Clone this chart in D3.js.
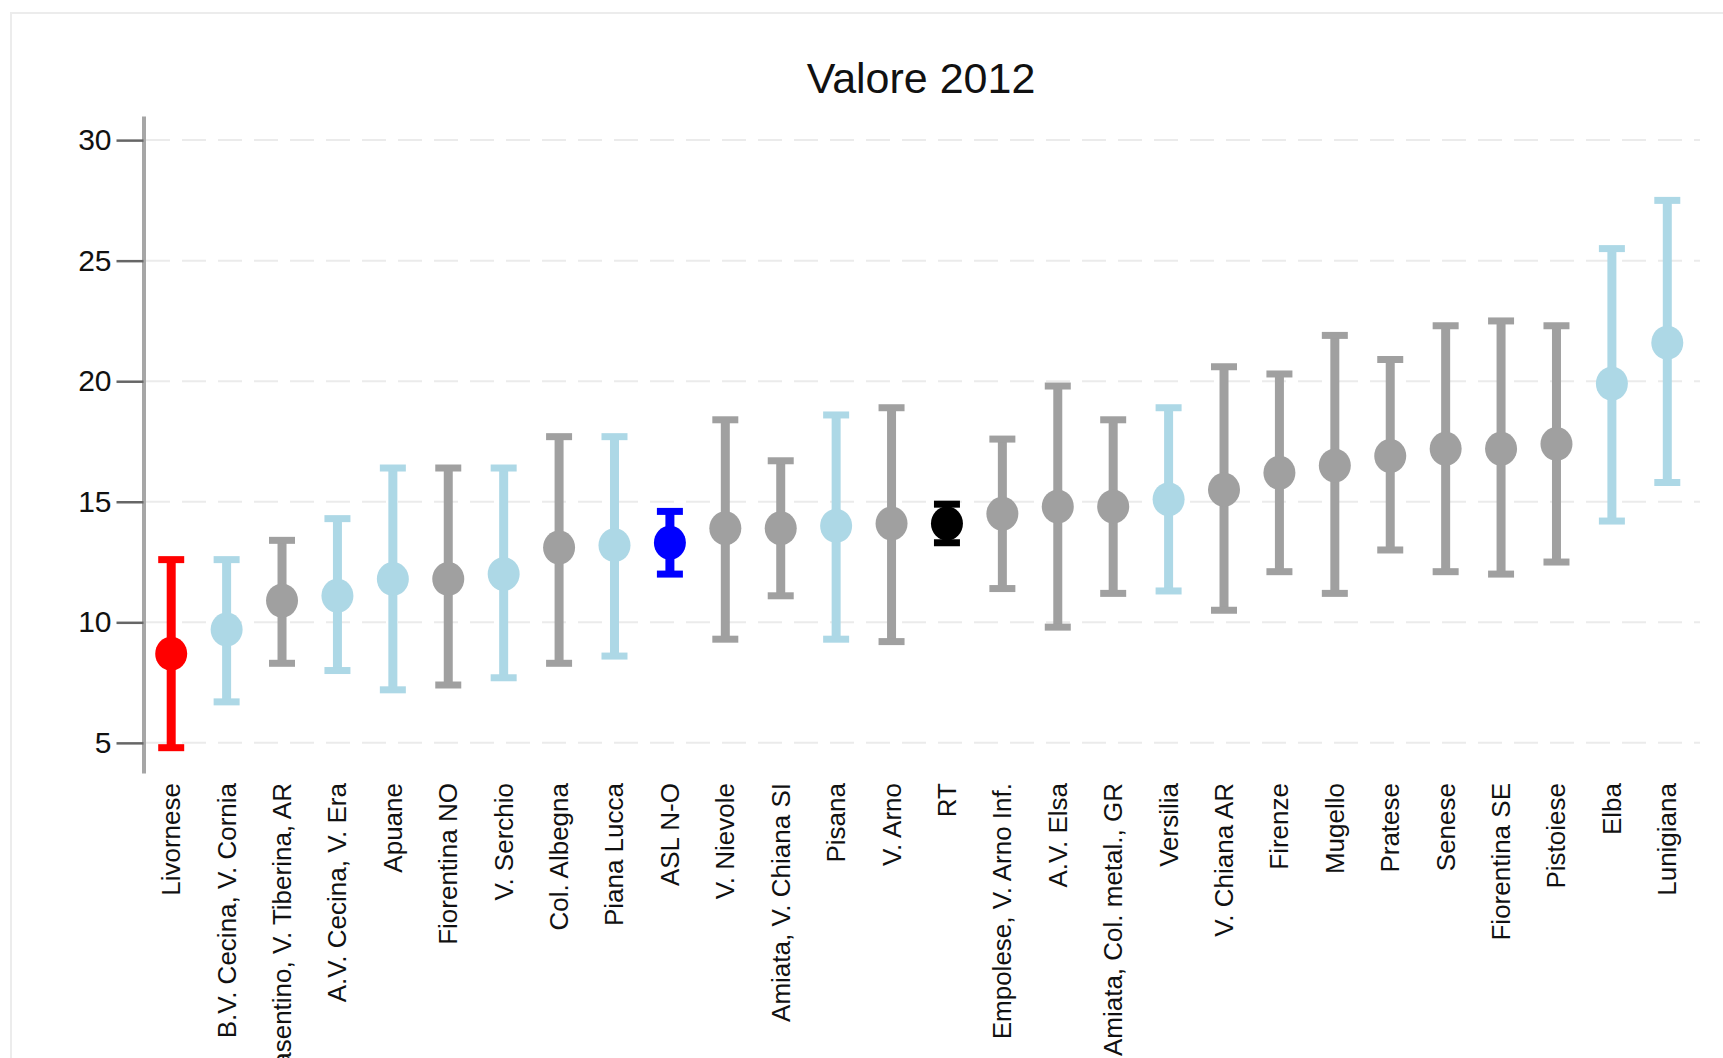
<!DOCTYPE html>
<html>
<head>
<meta charset="utf-8">
<script src="https://cdn.jsdelivr.net/npm/d3@7"></script>
<style>
  body { margin: 0; background: #fff; }
  svg { display: block; font-family: "Liberation Sans", Arial, sans-serif; }
</style>
</head>
<body>
<div id="chart"></div>
<script>
// Valori (media e intervallo di confidenza)
const zone = ["Livornese", "B.V. Cecina, V. Cornia", "Casentino, V. Tiberina, AR", "A.V. Cecina, V. Era",
  "Apuane", "Fiorentina NO", "V. Serchio", "Col. Albegna", "Piana Lucca", "ASL N-O", "V. Nievole",
  "Amiata, V. Chiana SI", "Pisana", "V. Arno", "RT", "Empolese, V. Arno Inf.", "A.V. Elsa",
  "Amiata, Col. metal., GR", "Versilia", "V. Chiana AR", "Firenze", "Mugello", "Pratese", "Senese",
  "Fiorentina SE", "Pistoiese", "Elba", "Lunigiana"];
const valore = [8.7, 9.7, 10.9, 11.1, 11.8, 11.8, 12.0, 13.1, 13.2, 13.3, 13.9, 13.9, 14.0, 14.1, 14.1,
  14.5, 14.8, 14.8, 15.1, 15.5, 16.2, 16.5, 16.9, 17.2, 17.2, 17.4, 19.9, 21.6];
const inf = [4.8, 6.7, 8.3, 8.0, 7.2, 7.4, 7.7, 8.3, 8.6, 12.0, 9.3, 11.1, 9.3, 9.2, 13.3,
  11.4, 9.8, 11.2, 11.3, 10.5, 12.1, 11.2, 13.0, 12.1, 12.0, 12.5, 14.2, 15.8];
const sup = [12.6, 12.6, 13.4, 14.3, 16.4, 16.4, 16.4, 17.7, 17.7, 14.6, 18.4, 16.7, 18.6, 18.9, 14.9,
  17.6, 19.8, 18.4, 18.9, 20.6, 20.3, 21.9, 20.9, 22.3, 22.5, 22.3, 25.5, 27.5];
const gruppo = ["min", "az", "gr", "az", "az", "gr", "az", "gr", "az", "asl", "gr", "gr", "az", "gr", "rt",
  "gr", "gr", "gr", "az", "gr", "gr", "gr", "gr", "gr", "gr", "gr", "az", "az"];
const yTicks = [5, 10, 15, 20, 25, 30];

const colori = { min: "#ff0000", az: "#add8e6", gr: "#a0a0a0", asl: "#0000ff", rt: "#000000" };

const W = 1723, H = 1058;
const data = zone.map((z, i) => ({ zona: z, v: valore[i], lo: inf[i], hi: sup[i], g: gruppo[i] }));

const svg = d3.select("#chart").append("svg")
  .attr("width", W)
  .attr("height", H);

// cornice leggera
svg.append("rect")
  .attr("x", 11).attr("y", 13)
  .attr("width", W + 20).attr("height", H + 20)
  .attr("fill", "none")
  .attr("stroke", "#ececec")
  .attr("stroke-width", 2);

svg.append("text")
  .attr("x", 921)
  .attr("y", 93)
  .attr("text-anchor", "middle")
  .style("font-size", "43px")
  .style("fill", "#111")
  .text("Valore 2012");

// Scale
const x = d3.scalePoint().domain(zone).range([143.5, 1695]).padding(0.5);
const y = d3.scaleLinear().domain([3.75, 31]).range([773, 116]);

// Griglia tratteggiata
svg.append("g")
  .selectAll("line")
  .data(yTicks)
  .join("line")
  .attr("x1", 146)
  .attr("x2", 1700)
  .attr("y1", d => y(d))
  .attr("y2", d => y(d))
  .attr("stroke", "#ebebeb")
  .attr("stroke-width", 2)
  .attr("stroke-dasharray", "24,12");

// Asse Y
const yAxis = svg.append("g")
  .attr("transform", "translate(143.5,0)")
  .call(d3.axisLeft(y).tickValues(yTicks).tickSize(27).tickSizeOuter(0).tickPadding(5));

yAxis.select(".domain")
  .attr("stroke", "#a6a6a6")
  .attr("stroke-width", 4);
yAxis.selectAll(".tick line")
  .attr("stroke", "#666")
  .attr("stroke-width", 2.5);
yAxis.selectAll(".tick text")
  .style("font-size", "30px")
  .style("fill", "#111")
  .attr("font-family", "Liberation Sans, Arial, sans-serif");

// Barre di errore
const barre = svg.append("g").selectAll("g")
  .data(data)
  .join("g")
  .attr("fill", d => colori[d.g])
  .attr("stroke", d => colori[d.g]);

barre.append("line")
  .attr("x1", d => x(d.zona))
  .attr("x2", d => x(d.zona))
  .attr("y1", d => y(d.lo))
  .attr("y2", d => y(d.hi))
  .attr("stroke-width", 9);

barre.append("line")
  .attr("x1", d => x(d.zona) - 13)
  .attr("x2", d => x(d.zona) + 13)
  .attr("y1", d => y(d.hi))
  .attr("y2", d => y(d.hi))
  .attr("stroke-width", 7);

barre.append("line")
  .attr("x1", d => x(d.zona) - 13)
  .attr("x2", d => x(d.zona) + 13)
  .attr("y1", d => y(d.lo))
  .attr("y2", d => y(d.lo))
  .attr("stroke-width", 7);

barre.append("ellipse")
  .attr("cx", d => x(d.zona))
  .attr("cy", d => y(d.v))
  .attr("rx", 16)
  .attr("ry", 17)
  .attr("stroke", "none");

// Etichette delle zone
svg.append("g").selectAll("text")
  .data(data)
  .join("text")
  .attr("transform", d => `translate(${x(d.zona) + 9},783) rotate(-90)`)
  .attr("text-anchor", "end")
  .style("font-size", "26px")
  .style("fill", "#111")
  .text(d => d.zona);
</script>
</body>
</html>
